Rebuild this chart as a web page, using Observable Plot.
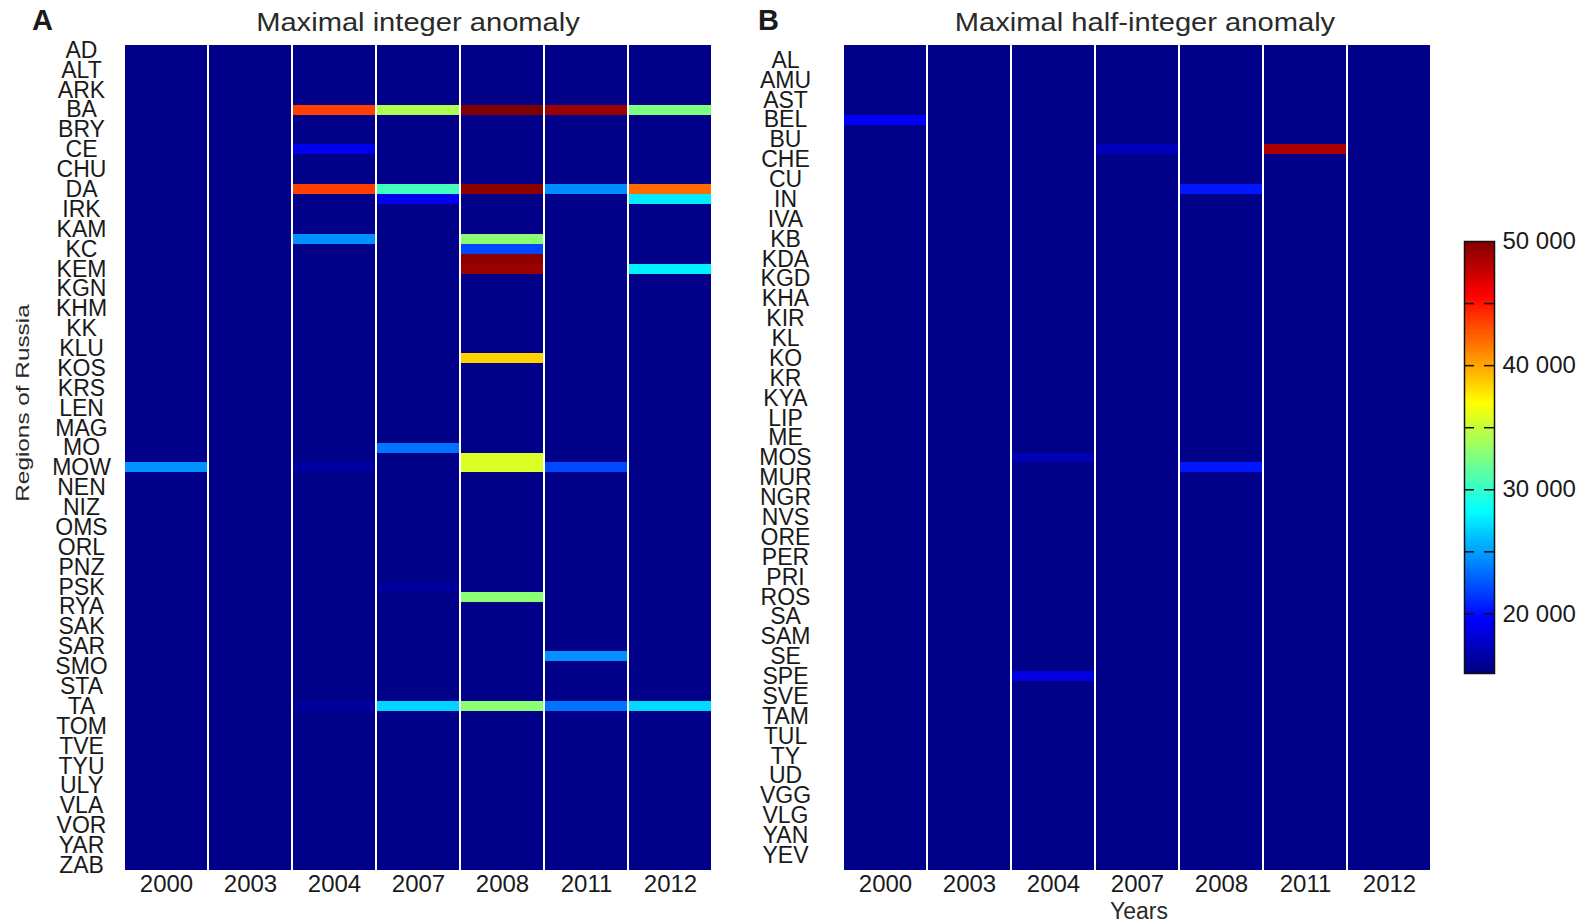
<!DOCTYPE html>
<html>
<head>
<meta charset="utf-8">
<script src="https://cdn.jsdelivr.net/npm/d3@7"></script>
<script src="https://cdn.jsdelivr.net/npm/@observablehq/plot@0.6"></script>
<style>
  html, body { margin: 0; padding: 0; background: #fff; }
  #root { position: relative; width: 1587px; height: 923px; font-family: "Liberation Sans", Arial, sans-serif; color: #222; overflow: hidden; }
  #root > div.abs { position: absolute; white-space: nowrap; }
  .plotbox { position: absolute; top: 0; }
</style>
</head>
<body>
<div id="root">
  <div id="left" class="plotbox" style="left:0px;"></div>
  <div id="right" class="plotbox" style="left:720px;"></div>
  <div id="bar" class="plotbox" style="left:1440px;"></div>
  <div class="abs" style="left:32px;top:4px;font-size:29px;font-weight:bold;color:#1a1a1a;">A</div>
  <div class="abs" style="left:758px;top:4px;font-size:29px;font-weight:bold;color:#1a1a1a;">B</div>
  <div class="abs" style="left:418px;top:7px;font-size:26px;transform:translateX(-50%) scaleX(1.12);color:#2a2a2a;">Maximal integer anomaly</div>
  <div class="abs" style="left:1145px;top:7px;font-size:26px;transform:translateX(-50%) scaleX(1.12);color:#2a2a2a;">Maximal half-integer anomaly</div>
  <div class="abs" style="left:23px;top:403px;font-size:19px;transform:translate(-50%,-50%) rotate(-90deg) scaleX(1.28);color:#2a2a2a;">Regions of Russia</div>
  <div class="abs" style="left:1139px;top:898px;font-size:23px;transform:translateX(-50%);color:#2a2a2a;">Years</div>
</div>
<script>
// ---- data ----
const years = ["2000", "2003", "2004", "2007", "2008", "2011", "2012"];
const regions = ["AD","AL","ALT","AMU","ARK","AST","BA","BEL","BRY","BU","CE","CHE","CHU","CU","DA","IN","IRK","IVA",
  "KAM","KB","KC","KDA","KEM","KGD","KGN","KHA","KHM","KIR","KK","KL","KLU","KO","KOS","KR","KRS","KYA","LEN","LIP",
  "MAG","ME","MO","MOS","MOW","MUR","NEN","NGR","NIZ","NVS","OMS","ORE","ORL","PER","PNZ","PRI","PSK","ROS","RYA",
  "SA","SAK","SAM","SAR","SE","SMO","SPE","STA","SVE","TA","TAM","TOM","TUL","TVE","TY","TYU","UD","ULY","VGG","VLA",
  "VLG","VOR","YAN","YAR","YEV","ZAB"];
const baseline = 15500;
// [region, year, value] for cells above the baseline
const integerCells = [
  ["BA","2004",43500],["BA","2007",34200],["BA","2008",50000],["BA","2011",49000],["BA","2012",32500],
  ["CE","2004",18900],
  ["DA","2004",43500],["DA","2007",30500],["DA","2008",49500],["DA","2011",24300],["DA","2012",42000],
  ["IN","2007",19000],["IN","2012",27600],
  ["KB","2004",24500],["KB","2008",33000],
  ["KC","2008",22000],
  ["KDA","2008",49500],
  ["KEM","2008",49000],["KEM","2012",27800],
  ["KO","2008",38500],
  ["MO","2007",23500],
  ["MOS","2008",35700],
  ["MOW","2000",24500],["MOW","2004",16300],["MOW","2008",35700],["MOW","2011",22000],
  ["PSK","2007",16200],
  ["ROS","2008",33000],
  ["SE","2011",24500],
  ["TA","2004",16200],["TA","2007",26800],["TA","2008",33000],["TA","2011",23500],["TA","2012",27000]
];
const halfIntegerCells = [
  ["BEL","2000",19200],
  ["CE","2007",17200],["CE","2011",48500],
  ["DA","2008",20300],
  ["MOS","2004",17000],
  ["MOW","2008",20300],
  ["SPE","2004",18500]
];
const colorDomain = [15200, 50000];
const barLabels = [20000, 30000, 40000, 50000];
const barDashes = [20000, 25000, 30000, 35000, 40000, 45000];

// ---- helpers ----
function jet(t) {
  const c = v => Math.max(0, Math.min(1, v));
  const r = c(1.5 - Math.abs(4 * t - 3));
  const g = c(1.5 - Math.abs(4 * t - 2));
  const b = c(1.5 - Math.abs(4 * t - 1));
  return `rgb(${Math.round(r * 255)},${Math.round(g * 255)},${Math.round(b * 255)})`;
}
function buildTable(cells) {
  const m = new Map(cells.map(([r, y, v]) => [r + "|" + y, v]));
  const out = [];
  for (const r of regions) for (const y of years) out.push({region: r, year: y, value: m.get(r + "|" + y) ?? baseline});
  return out;
}
const colorOpts = {type: "linear", domain: colorDomain, interpolate: jet, clamp: true};
const baseStyle = {fontFamily: "Liberation Sans, Arial, sans-serif", color: "#1a1a1a", background: "transparent"};

function heatmap(cells, opts) {
  return Plot.plot({
    width: 730, height: 923,
    marginLeft: opts.marginLeft, marginRight: opts.marginRight, marginTop: 45, marginBottom: 53,
    style: baseStyle,
    x: {domain: years, padding: 0, label: null},
    y: {domain: regions, padding: 0, label: null},
    color: colorOpts,
    marks: [
      Plot.cell(buildTable(cells), {x: "year", y: "region", fill: "value", insetLeft: 1.3, insetRight: 1.3, insetTop: 0, insetBottom: 0, shapeRendering: "crispEdges"}),
      Plot.axisX({tickSize: 0, tickPadding: 4, fontSize: 24, label: null}),
      Plot.axisY({ticks: regions.filter((d, i) => i % 2 === opts.parity), tickSize: 0, tickPadding: opts.labelPad, textAnchor: "middle", fontSize: 23, label: null})
    ]
  });
}

document.getElementById("left").append(heatmap(integerCells, {marginLeft: 121, marginRight: 15, parity: 0, labelPad: 40}));
document.getElementById("right").append(heatmap(halfIntegerCells, {marginLeft: 120, marginRight: 16, parity: 1, labelPad: 55}));

// colour bar
const nSteps = 140;
const stepSize = (colorDomain[1] - colorDomain[0]) / nSteps;
const steps = d3.range(nSteps).map(i => ({lo: colorDomain[0] + i * stepSize, hi: colorDomain[0] + (i + 1) * stepSize, mid: colorDomain[0] + (i + 0.5) * stepSize}));
const fmt = d => d3.format(",")(d).replace(/,/g, " ");
document.getElementById("bar").append(Plot.plot({
  width: 147, height: 923,
  marginLeft: 24, marginRight: 93, marginTop: 241, marginBottom: 250,
  style: baseStyle,
  x: {domain: [0, 1], axis: null},
  y: {domain: colorDomain, axis: null},
  color: colorOpts,
  marks: [
    Plot.rect(steps, {x1: 0, x2: 1, y1: "lo", y2: "hi", fill: "mid", shapeRendering: "crispEdges"}),
    Plot.ruleY(barDashes, {stroke: "#111", strokeWidth: 1.5, insetRight: 20}),
    Plot.ruleY(barDashes, {stroke: "#111", strokeWidth: 1.5, insetLeft: 20}),
    Plot.frame({stroke: "#111", strokeWidth: 1.5}),
    Plot.axisY({anchor: "right", ticks: barLabels, tickFormat: fmt, tickSize: 0, tickPadding: 8, fontSize: 24, label: null})
  ]
}));
</script>
</body>
</html>
